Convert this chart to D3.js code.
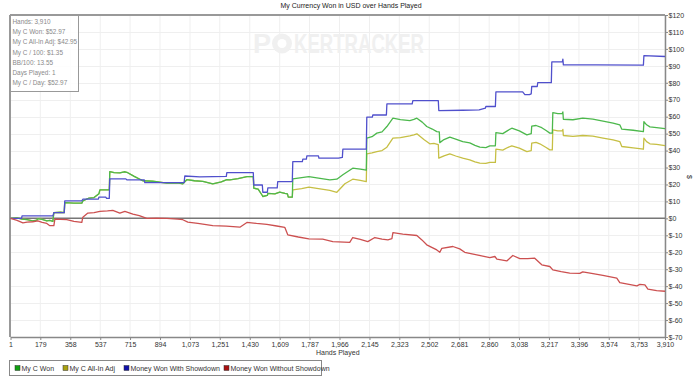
<!DOCTYPE html>
<html><head><meta charset="utf-8">
<script src="https://cdn.jsdelivr.net/npm/d3@7"></script>
<style>
body{margin:0;background:#fff;}
svg text{font-family:"Liberation Sans",Arial,sans-serif;}
</style></head>
<body><svg id="c" width="700" height="380"></svg>
<script>
const title = "My Currency Won in USD over Hands Played";
const xTicks = [1,179,358,537,715,894,1073,1251,1430,1609,1787,1966,2145,2323,2502,2681,2860,3038,3217,3396,3574,3753,3910];
const yTicks = [120,110,100,90,80,70,60,50,40,30,20,10,0,-10,-20,-30,-40,-50,-60,-70];
const infoLines = ["Hands: 3,910","My C Won: $52.97","My C All-In Adj: $42.95","My C / 100: $1.35","BB/100: 13.55","Days Played: 1","My C / Day: $52.97"];
const seriesNames = ["My C Won","My C All-In Adj","Money Won With Showdown","Money Won Without Showdown"];

const myCWon = [[1,0],[40,0.3],[70,-0.5],[100,-0.8],[134,-1.5],[158,-1],[164,-0.2],[190,-0.6],[218,-1.5],[236,-1.2],[254,-1.8],[260,3.4],[300,3.6],[322,3.4],[325,9.3],[380,9.0],[427,9],[433,10.3],[470,12],[500,12.3],[529,14.5],[535,16.8],[591,16.8],[594,27.6],[620,27.0],[654,26.8],[680,27.5],[696,27.2],[740,24.8],[791,22.2],[850,21.9],[935,20.8],[1000,20.9],[1030,20.4],[1054,22.8],[1100,22.2],[1150,21.8],[1209,20.4],[1260,21.5],[1293,22.8],[1311,22.7],[1360,23.5],[1413,24.6],[1451,24.6],[1454,17.8],[1480,17.2],[1505,13.5],[1508,12.9],[1535,13.5],[1538,14.8],[1580,14.5],[1609,15.5],[1640,14.8],[1655,14.5],[1660,12.5],[1684,12.5],[1687,23.3],[1740,24.1],[1783,24.6],[1850,23.6],[1908,22.7],[1950,23.1],[1986,25.7],[2045,29.6],[2090,29.1],[2126,28.5],[2129,47.3],[2160,48.2],[2189,50.3],[2220,51.0],[2249,54.2],[2285,59.1],[2330,58.3],[2386,57.7],[2410,58.4],[2428,59.1],[2460,56.8],[2487,54.2],[2520,52.7],[2547,51.2],[2562,51],[2565,44.7],[2590,46.5],[2625,47.9],[2660,46.8],[2702,45.3],[2744,44.5],[2775,43.1],[2804,42],[2840,41.8],[2864,42.8],[2897,42.8],[2900,50.6],[2941,50],[2970,51.8],[2995,53.2],[3040,51.6],[3085,49.3],[3111,50],[3114,54.4],[3140,54.8],[3174,53.5],[3200,51.8],[3222,50.3],[3237,50.3],[3240,62.4],[3270,61.8],[3297,62],[3300,62.8],[3303,58.5],[3360,58.2],[3419,59.1],[3479,58.5],[3540,57.4],[3600,56.2],[3640,55.2],[3652,52.6],[3720,52.0],[3781,51.2],[3784,57.1],[3800,55.2],[3820,54],[3860,53.5],[3910,52.97]];

const myCAllInAdj = [[1,0],[40,0.3],[70,-0.5],[100,-0.8],[134,-1.5],[158,-1],[164,-0.2],[190,-0.6],[218,-1.5],[236,-1.2],[254,-1.8],[260,3.4],[300,3.6],[322,3.4],[325,9.3],[380,9.0],[427,9],[433,10.3],[470,12],[500,12.3],[529,14.5],[535,16.8],[591,16.8],[594,27.6],[620,27.0],[654,26.8],[680,27.5],[696,27.2],[740,24.8],[791,22.2],[850,21.9],[935,20.8],[1000,20.9],[1030,20.4],[1054,22.8],[1100,22.2],[1150,21.8],[1209,20.4],[1260,21.5],[1293,22.8],[1311,22.7],[1360,23.5],[1413,24.6],[1451,24.6],[1454,17.8],[1480,17.2],[1505,13.5],[1508,12.9],[1535,13.5],[1538,14.8],[1580,14.5],[1609,15.5],[1640,14.8],[1655,14.5],[1660,12.5],[1684,12.5],[1687,16.8],[1740,17.6],[1783,18.4],[1850,17.4],[1908,16.5],[1950,15.4],[1998,20.4],[2045,23.1],[2090,22.4],[2126,21.7],[2129,38],[2160,38.6],[2189,39.4],[2220,40.0],[2249,42],[2285,47.3],[2330,47.6],[2386,48.7],[2410,49.3],[2428,49.9],[2470,46.5],[2505,44],[2530,44.2],[2556,43.5],[2559,35.5],[2590,36.9],[2625,38],[2660,36.8],[2702,35.5],[2744,34.5],[2775,33.4],[2804,32.6],[2840,32.4],[2864,33],[2897,33],[2900,40.8],[2941,40.3],[2970,41.8],[2995,42.8],[3040,41.4],[3085,39.4],[3111,40],[3114,44.4],[3140,44.8],[3162,44],[3200,41.8],[3222,40.4],[3237,40.4],[3240,52.2],[3270,51.6],[3297,51.8],[3300,52.5],[3303,48.9],[3360,48.4],[3419,48.9],[3479,48.5],[3540,47.4],[3600,46.3],[3640,45.3],[3652,42.4],[3720,41.6],[3781,40.8],[3784,47.3],[3800,45.3],[3820,44],[3860,43.6],[3910,42.95]];

const wonWithShowdown = [[1,0],[67,0],[70,1.5],[254,1.5],[260,3.4],[322,3.4],[325,10.3],[427,10.3],[433,11.3],[526,11.3],[529,12.5],[570,12.5],[575,11.8],[591,11.8],[594,23.3],[690,23.3],[696,22.7],[800,22.7],[803,21.1],[1038,21.1],[1042,25],[1132,24.5],[1290,24.8],[1293,27],[1451,27],[1454,19.7],[1505,19.7],[1508,15.4],[1535,15.4],[1538,18],[1594,18],[1597,21.7],[1684,21.7],[1687,33.5],[1744,33.5],[1747,34.9],[1768,34.9],[1771,36.9],[1840,36.9],[1843,35.5],[1960,35.5],[1983,36],[1986,40.8],[2126,40.8],[2129,59.7],[2162,59.7],[2165,61],[2246,61],[2249,67.5],[2400,67.5],[2404,69.5],[2556,69.5],[2559,63.6],[2700,63.8],[2800,64],[2837,65],[2840,66],[2897,66],[2900,74.6],[3060,74.6],[3073,73],[3100,73],[3111,73.5],[3114,77.8],[3147,77.8],[3150,80.1],[3231,80.1],[3234,92.3],[3297,92.3],[3300,94],[3303,90.6],[3500,90.6],[3781,90.4],[3784,96],[3910,95.5]];

const wonWithoutShowdown = [[1,0],[40,-1.2],[75,-2.6],[100,-2.2],[134,-2],[164,-1.5],[190,-2.4],[218,-3],[236,-4.3],[260,-4.3],[266,-0.5],[300,-0.6],[337,-0.8],[380,-1.8],[427,-2.4],[433,0.7],[463,3.1],[500,3.4],[535,4.1],[580,4.4],[612,4.7],[654,3.1],[684,4.1],[732,2.5],[770,1.6],[815,0],[870,0.2],[935,0],[1000,-0.4],[1030,-0.8],[1060,-2.2],[1120,-3.0],[1209,-4.3],[1290,-4.6],[1371,-5.2],[1413,-2.4],[1470,-3.0],[1532,-3.5],[1591,-4.5],[1639,-5.3],[1657,-9.7],[1720,-11.0],[1783,-12.1],[1866,-12.3],[1926,-13.7],[2027,-14.2],[2045,-11.3],[2090,-12.4],[2135,-13.7],[2177,-11.3],[2220,-12.2],[2255,-12.7],[2279,-12],[2285,-8.4],[2344,-9.3],[2428,-10.1],[2458,-12.7],[2487,-15.6],[2547,-18.6],[2565,-20],[2577,-17.7],[2643,-16.6],[2684,-18],[2714,-20],[2786,-21.5],[2864,-23.1],[2894,-22.5],[2906,-24.1],[2965,-25.1],[3001,-21.9],[3043,-23.7],[3090,-23.8],[3132,-23.5],[3174,-27.4],[3222,-28.4],[3240,-30.4],[3290,-31.4],[3341,-32.3],[3401,-32.5],[3419,-31.6],[3480,-32.6],[3539,-33.6],[3622,-35.3],[3640,-37.9],[3742,-39.8],[3760,-39],[3790,-39.2],[3808,-41.8],[3860,-42.6],[3910,-43]];

const lineColors = ["#4cb84c","#c6bf44","#5050cc","#cc5050"];
const swatchColors = ["#10a010","#a8a010","#1010a8","#a81010"];

const svg = d3.select("#c");
const L = 10.5, R = 665, T = 15, B = 337;
const x = d3.scaleLinear().domain([1,3910]).range([L,R]);
const y = d3.scaleLinear().domain([-70,120]).range([B,T]);

// grid
svg.append("g").selectAll("line").data(xTicks).join("line")
  .attr("x1",d=>x(d)).attr("x2",d=>x(d)).attr("y1",T).attr("y2",B)
  .attr("stroke","#efefef").attr("stroke-width",1);
svg.append("g").selectAll("line").data(yTicks).join("line")
  .attr("x1",L).attr("x2",R).attr("y1",d=>Math.round(y(d))+0.5).attr("y2",d=>Math.round(y(d))+0.5)
  .attr("stroke","#efefef").attr("stroke-width",1);

// watermark
const wm = svg.append("g").attr("fill","#f0f0f0");
wm.append("text").attr("x",253).attr("y",53).attr("font-size",27).attr("font-weight","bold").text("P");
wm.append("circle").attr("cx",282).attr("cy",43.5).attr("r",10);
wm.append("circle").attr("cx",282).attr("cy",43.5).attr("r",4.5).attr("fill","#fff");
wm.append("text").attr("x",294).attr("y",53).attr("font-size",27).attr("font-weight","bold")
  .attr("textLength",130).attr("lengthAdjust","spacingAndGlyphs").text("KERTRACKER");

// title
svg.append("text").attr("x",351).attr("y",8).attr("text-anchor","middle").attr("font-size",7).attr("fill","#222").text(title);

// axes
const xAxis = d3.axisBottom(x).tickValues(xTicks).tickFormat(d3.format(",")).tickSize(3).tickSizeOuter(0);
const gx = svg.append("g").attr("transform",`translate(0,${B})`).call(xAxis);
gx.select(".domain").attr("stroke","#888").attr("stroke-width",1.5);
gx.selectAll(".tick line").attr("stroke","#888");
gx.selectAll("text").attr("font-size",7).attr("fill","#333").attr("font-family","Liberation Sans, Arial, sans-serif").attr("dy","0.6em");

const yAxis = d3.axisRight(y).tickValues(yTicks).tickFormat(d=>"$"+d).tickSize(3).tickSizeOuter(0);
const gy = svg.append("g").attr("transform",`translate(${R},0)`).call(yAxis);
gy.select(".domain").attr("stroke","#888").attr("stroke-width",1.5);
gy.selectAll(".tick line").attr("stroke","#888");
gy.selectAll("text").attr("font-size",7).attr("fill","#333").attr("font-family","Liberation Sans, Arial, sans-serif").attr("x",3.5);

// frame top & left
svg.append("line").attr("x1",L-0.5).attr("x2",R).attr("y1",T).attr("y2",T).attr("stroke","#999").attr("stroke-width",2);
svg.append("line").attr("x1",L-0.5).attr("x2",L-0.5).attr("y1",T).attr("y2",B).attr("stroke","#999").attr("stroke-width",2);

// zero line
svg.append("line").attr("x1",L).attr("x2",R).attr("y1",y(0)).attr("y2",y(0)).attr("stroke","#777").attr("stroke-width",1.5);

// axis labels
svg.append("text").attr("x",(L+R)/2).attr("y",355).attr("text-anchor","middle").attr("font-size",7).attr("fill","#333").text("Hands Played");
svg.append("text").attr("transform","translate(687,177) rotate(90)").attr("text-anchor","middle").attr("font-size",7).attr("fill","#333").text("$");

// lines
const line = d3.line().x(d=>x(d[0])).y(d=>y(d[1]));
const series = [myCAllInAdj, myCWon, wonWithShowdown, wonWithoutShowdown];
const colorOrder = [lineColors[1], lineColors[0], lineColors[2], lineColors[3]];
series.forEach((s,i)=>{
  svg.append("path").datum(s).attr("d",line).attr("fill","none")
    .attr("stroke",colorOrder[i]).attr("stroke-width",1.3).attr("stroke-linejoin","round");
});

// info box
svg.append("rect").attr("x",10.5).attr("y",15.5).attr("width",68).attr("height",76).attr("fill","rgba(255,255,255,0.85)").attr("stroke","#999").attr("stroke-width",1);
svg.append("g").selectAll("text").data(infoLines).join("text")
  .attr("x",12.5).attr("y",(d,i)=>24 + i*10.2).attr("font-size",6.4).attr("fill","#8a8a8a").text(d=>d);

// legend
svg.append("rect").attr("x",9.5).attr("y",360.5).attr("width",312).attr("height",15).attr("fill","#fff").attr("stroke","#888").attr("stroke-width",1);
const legX = [15,63,124,224];
const lg = svg.append("g").selectAll("g").data(seriesNames).join("g").attr("transform",(d,i)=>`translate(${legX[i]},368)`);
lg.append("rect").attr("x",0).attr("y",-2.5).attr("width",5).attr("height",5).attr("fill",(d,i)=>swatchColors[i]).attr("stroke","#333").attr("stroke-width",0.5);
lg.append("text").attr("x",6.5).attr("y",2.5).attr("font-size",7).attr("fill","#333").text(d=>d);
</script></body></html>
